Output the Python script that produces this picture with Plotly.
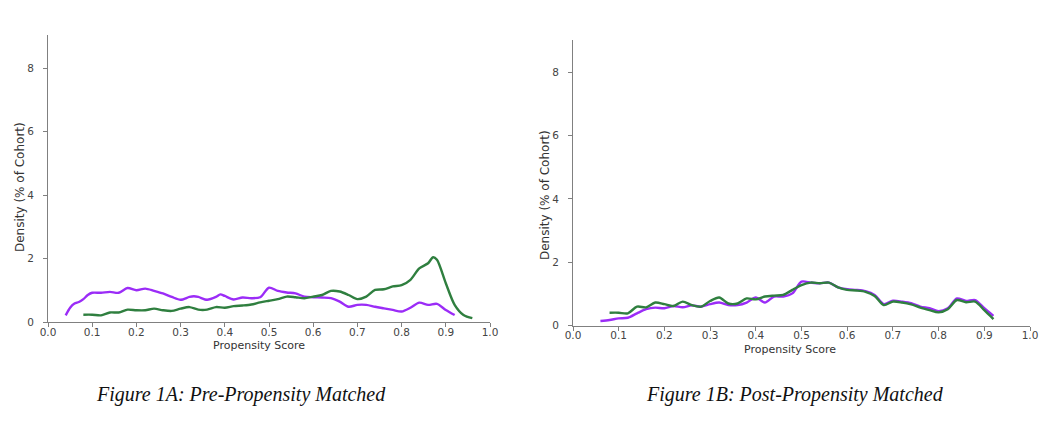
import plotly.graph_objects as go

# ---------------- data ----------------
# Figure 1A: pre-propensity matched
pre_purple_x = [0.04, 0.05, 0.06, 0.07, 0.08, 0.09, 0.10, 0.12, 0.14, 0.16, 0.18, 0.20, 0.22, 0.24,
                0.26, 0.28, 0.30, 0.32, 0.33, 0.34, 0.36, 0.38, 0.39, 0.40, 0.42, 0.44, 0.46, 0.48,
                0.50, 0.52, 0.54, 0.56, 0.58, 0.60, 0.62, 0.64, 0.66, 0.68, 0.70, 0.72, 0.74, 0.76,
                0.78, 0.80, 0.82, 0.84, 0.86, 0.88, 0.90, 0.92]
pre_purple_y = [0.21, 0.45, 0.58, 0.63, 0.72, 0.85, 0.92, 0.92, 0.95, 0.92, 1.07, 1.00, 1.05, 0.98,
                0.90, 0.79, 0.70, 0.79, 0.81, 0.79, 0.70, 0.79, 0.87, 0.82, 0.71, 0.77, 0.75, 0.78,
                1.08, 0.98, 0.93, 0.90, 0.80, 0.78, 0.77, 0.75, 0.64, 0.48, 0.54, 0.54, 0.48, 0.43,
                0.38, 0.33, 0.45, 0.61, 0.54, 0.57, 0.38, 0.22]

pre_green_x = [0.08, 0.10, 0.12, 0.14, 0.16, 0.18, 0.20, 0.22, 0.24, 0.26, 0.28, 0.30, 0.32, 0.34,
               0.36, 0.38, 0.40, 0.42, 0.44, 0.46, 0.48, 0.50, 0.52, 0.54, 0.56, 0.58, 0.60, 0.62,
               0.64, 0.66, 0.68, 0.70, 0.72, 0.74, 0.76, 0.78, 0.80, 0.82, 0.84, 0.86, 0.871, 0.88,
               0.90, 0.92, 0.94, 0.96]
pre_green_y = [0.23, 0.23, 0.21, 0.30, 0.30, 0.39, 0.37, 0.37, 0.42, 0.37, 0.35, 0.42, 0.47, 0.39,
               0.39, 0.47, 0.45, 0.50, 0.52, 0.55, 0.62, 0.67, 0.72, 0.80, 0.78, 0.75, 0.80, 0.85,
               0.98, 0.96, 0.85, 0.72, 0.80, 1.01, 1.03, 1.12, 1.16, 1.33, 1.69, 1.85, 2.04, 1.96,
               1.22, 0.54, 0.22, 0.12]

# Figure 1B: post-propensity matched
post_purple_x = [0.06, 0.08, 0.10, 0.12, 0.14, 0.16, 0.18, 0.20, 0.22, 0.24, 0.26, 0.28, 0.30, 0.32,
                 0.34, 0.36, 0.38, 0.40, 0.42, 0.44, 0.46, 0.48, 0.50, 0.52, 0.54, 0.56, 0.58, 0.60,
                 0.62, 0.64, 0.66, 0.68, 0.70, 0.72, 0.74, 0.76, 0.78, 0.80, 0.82, 0.84, 0.86, 0.88,
                 0.90, 0.92]
post_purple_y = [0.15, 0.18, 0.23, 0.25, 0.39, 0.52, 0.57, 0.55, 0.62, 0.58, 0.64, 0.60, 0.68, 0.73,
                 0.65, 0.65, 0.73, 0.89, 0.73, 0.92, 0.92, 1.02, 1.39, 1.36, 1.34, 1.36, 1.21, 1.15,
                 1.13, 1.09, 0.97, 0.68, 0.79, 0.76, 0.71, 0.60, 0.55, 0.46, 0.55, 0.86, 0.78, 0.81,
                 0.55, 0.31]

post_green_x = [0.08, 0.10, 0.12, 0.14, 0.16, 0.18, 0.20, 0.22, 0.24, 0.26, 0.28, 0.30, 0.32, 0.34,
                0.36, 0.38, 0.40, 0.42, 0.44, 0.46, 0.48, 0.50, 0.52, 0.54, 0.56, 0.58, 0.60, 0.62,
                0.64, 0.66, 0.68, 0.70, 0.72, 0.74, 0.76, 0.78, 0.80, 0.82, 0.84, 0.86, 0.88, 0.90,
                0.92]
post_green_y = [0.41, 0.41, 0.39, 0.60, 0.58, 0.73, 0.68, 0.62, 0.76, 0.65, 0.60, 0.78, 0.89, 0.70,
                0.70, 0.86, 0.83, 0.92, 0.95, 0.97, 1.13, 1.28, 1.36, 1.34, 1.36, 1.21, 1.13, 1.11,
                1.07, 0.94, 0.65, 0.76, 0.73, 0.67, 0.57, 0.49, 0.42, 0.52, 0.81, 0.74, 0.76, 0.49,
                0.21]

x_ticks = [0.0, 0.1, 0.2, 0.3, 0.4, 0.5, 0.6, 0.7, 0.8, 0.9, 1.0]
y_ticks = [0, 2, 4, 6, 8]
captions = ["Figure 1A: Pre-Propensity Matched", "Figure 1B: Post-Propensity Matched"]
x_title = "Propensity Score"
y_title = "Density (% of Cohort)"

PURPLE = "#9b2cf7"
GREEN = "#2f7f3f"
W, H = 1062, 442

fig = go.Figure()

def line(x, y, color, xa, ya):
    fig.add_trace(go.Scatter(x=x, y=y, mode="lines", xaxis=xa, yaxis=ya,
                             line=dict(color=color, width=2.4, shape="spline", smoothing=0.8),
                             showlegend=False, hoverinfo="skip"))

line(pre_purple_x, pre_purple_y, PURPLE, "x", "y")
line(pre_green_x, pre_green_y, GREEN, "x", "y")
line(post_purple_x, post_purple_y, PURPLE, "x2", "y2")
line(post_green_x, post_green_y, GREEN, "x2", "y2")

# pixel geometry
L = dict(x0=48, x1=490, y0=322, y1=35)
R = dict(x0=573, x1=1030, y0=325.7, y1=40.4)

def px(v):
    return v / W

def py(v):
    return (H - v) / H

axis_common = dict(showgrid=False, zeroline=False, showline=True, linecolor="#808080", linewidth=1,
                   ticks="outside", ticklen=4, tickcolor="#808080", tickwidth=1, automargin=False,
                   tickfont=dict(family="DejaVu Sans", size=10.5, color="#444444"))

fig.update_layout(
    width=W, height=H, margin=dict(l=0, r=0, t=0, b=0, autoexpand=False),
    paper_bgcolor="white", plot_bgcolor="white",
    xaxis=dict(domain=[px(L["x0"]), px(L["x1"])], range=[0, 1], tickvals=x_ticks,
               ticktext=[f"{v:.1f}" for v in x_ticks], anchor="y", ticklabelstandoff=-4,
               **axis_common),
    yaxis=dict(domain=[py(L["y0"]), py(L["y1"])], range=[0, 9.04], tickvals=y_ticks,
               anchor="x", ticklabelstandoff=7, **axis_common),
    xaxis2=dict(domain=[px(R["x0"]), px(R["x1"])], range=[0, 1], tickvals=x_ticks,
                ticktext=[f"{v:.1f}" for v in x_ticks], anchor="y2", ticklabelstandoff=-4,
                **axis_common),
    yaxis2=dict(domain=[py(R["y0"]), py(R["y1"])], range=[0, 9.0], tickvals=y_ticks,
                anchor="x2", ticklabelstandoff=7, **axis_common),
)

ann = []
# axis titles
for cx, cy in [(259, 345), (790, 349)]:
    ann.append(dict(x=px(cx), y=py(cy), xref="paper", yref="paper", text=x_title, showarrow=False,
                    font=dict(family="DejaVu Sans", size=11, color="#333333"),
                    xanchor="center", yanchor="middle"))
for cx, cy in [(20, 187), (545, 195)]:
    ann.append(dict(x=px(cx), y=py(cy), xref="paper", yref="paper", text=y_title, showarrow=False,
                    textangle=-90, font=dict(family="DejaVu Sans", size=12, color="#333333"),
                    xanchor="center", yanchor="middle"))
# captions
for cx, cy, txt in [(241, 394, captions[0]), (795, 394, captions[1])]:
    ann.append(dict(x=px(cx), y=py(cy), xref="paper", yref="paper", text=f"<i>{txt}</i>",
                    showarrow=False, font=dict(family="Liberation Serif", size=20, color="#111111"),
                    xanchor="center", yanchor="middle"))
fig.update_layout(annotations=ann)

fig.write_html("out.html")
